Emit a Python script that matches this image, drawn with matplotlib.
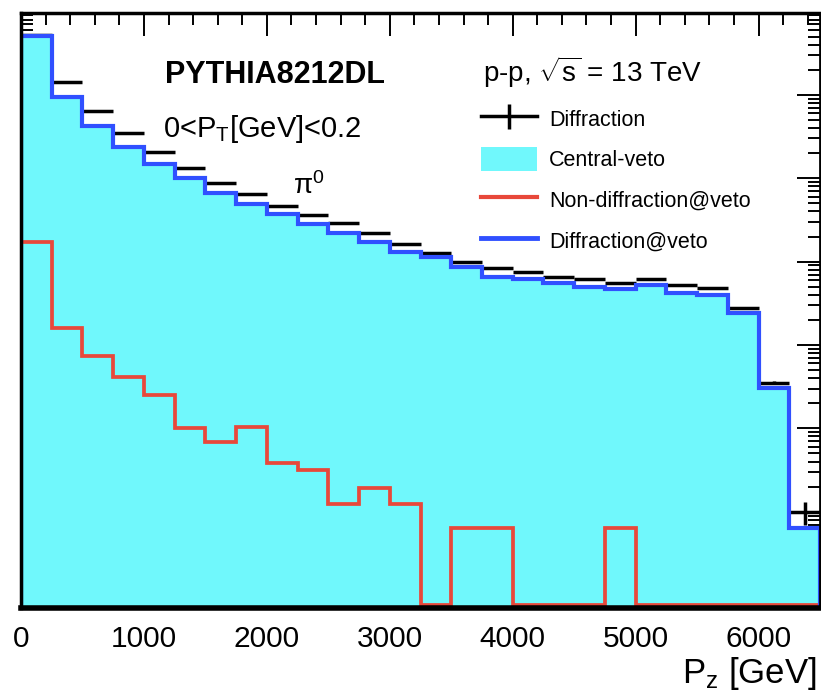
import numpy as np
import matplotlib
matplotlib.use("Agg")
import matplotlib.pyplot as plt
from matplotlib.lines import Line2D
from matplotlib.patches import Patch
from matplotlib.ticker import MultipleLocator, LogLocator, NullFormatter

plt.rcParams['font.family'] = ['Liberation Sans', 'DejaVu Sans']
plt.rcParams['mathtext.fontset'] = 'custom'
plt.rcParams['mathtext.rm'] = 'Liberation Sans'
plt.rcParams['mathtext.it'] = 'Liberation Sans:italic'
plt.rcParams['mathtext.bf'] = 'Liberation Sans:bold'

# P_z binning: 26 bins of 250 GeV
bin_edges = np.arange(0, 6501, 250)

# Diffraction (black points, arbitrary units)
diffraction = [5.3e6, 1.445e6, 6.49e5, 3.50e5, 2.09e5, 1.343e5, 8.71e4, 6.43e4,
               4.66e4, 3.63e4, 2.88e4, 2.19e4, 1.61e4, 1.28e4, 1.0e4, 8320,
               7590, 6610, 6140, 5600, 6140, 5250, 4790, 2810, 353, 10]
diffraction_err = [0, 0, 0, 0, 0, 0, 0, 0, 0, 0, 0, 0, 0, 0, 0, 0,
                   0, 0, 0, 0, 0, 0, 0, 40, 15, 3]

# Diffraction@veto (blue line) == Central-veto (cyan fill)
diffraction_veto = [5.15e6, 9.40e5, 4.29e5, 2.40e5, 1.476e5, 1.0e5, 6.73e4, 4.88e4,
                    3.73e4, 2.83e4, 2.23e4, 1.74e4, 1.32e4, 1.13e4, 8710, 6610,
                    6140, 5500, 5010, 4700, 5250, 4250, 3980, 2400, 302, 6.43]
central_veto = diffraction_veto

# Non-diffraction@veto (red line)
nondiffraction_veto = [17400, 1585, 745, 417, 251, 100, 69, 103, 38, 31.6, 12.4, 19,
                       12.4, 0, 6.3, 6.3, 0, 0, 0, 6.3, 0, 0, 0, 0, 0, 0]

labels = ['Diffraction', 'Central-veto', 'Non-diffraction@veto', 'Diffraction@veto']

ymin, ymax = 0.70, 9.6e6
cyan = '#70f8fc'
blue = '#3050ff'
red = '#e8483a'

W, H = 821, 693
fig = plt.figure(figsize=(W / 100, H / 100), dpi=100)
ax = fig.add_axes([21 / W, 1 - 608 / H, 799 / W, 595 / H])
ax.set_yscale('log')

centers = 0.5 * (bin_edges[:-1] + bin_edges[1:])
# empty bins are drawn just above the frame bottom, as ROOT does
red_floor = ymin * 1.09
red_vals = np.where(np.array(nondiffraction_veto) > 0, nondiffraction_veto, red_floor)

ax.stairs(central_veto, bin_edges, baseline=ymin, fill=True, color=cyan, zorder=3)
ax.errorbar(centers, diffraction, xerr=125, yerr=diffraction_err, fmt='none',
            ecolor='black', elinewidth=2.5, capsize=0, zorder=3.5)
ax.stairs(red_vals, bin_edges, baseline=ymin, color=red, lw=2.7, zorder=4)
ax.stairs(diffraction_veto, bin_edges, baseline=ymin, color=blue, lw=3, zorder=4.5)

ax.set_xlim(0, 6500)
ax.set_ylim(ymin, ymax)

ax.xaxis.set_major_locator(MultipleLocator(1000))
ax.xaxis.set_minor_locator(MultipleLocator(200))
ax.yaxis.set_major_locator(LogLocator(base=10, numticks=20))
ax.yaxis.set_minor_locator(LogLocator(base=10, subs=np.arange(2, 10), numticks=20))
ax.yaxis.set_minor_formatter(NullFormatter())

ax.tick_params(which='both', direction='in', top=True, right=True,
               labelleft=False, labelsize=21.5, width=1.4, pad=12, colors='black')
ax.tick_params(which='major', length=16.5)
ax.tick_params(which='minor', length=8.5)

for side, lw in [('bottom', 4), ('left', 2.5), ('top', 2.5), ('right', 2)]:
    ax.spines[side].set_linewidth(lw)
    ax.spines[side].set_zorder(6)

# texts
fig.text(165 / W, 1 - 83 / H, 'PYTHIA8212DL', fontsize=22, fontweight='bold',
         va='baseline', ha='left')
fig.text(163 / W, 1 - 137 / H, r'0<P$_{\mathrm{T}}$[GeV]<0.2', fontsize=21,
         va='baseline', ha='left')
fig.text(293 / W, 1 - 194 / H, r'π$^{0}$', fontsize=20, va='baseline', ha='left')
fig.text(483 / W, 1 - 82 / H, r'p-p, $\sqrt{\mathrm{s}}$ = 13 TeV', fontsize=20,
         va='baseline', ha='left')
fig.text(817 / W, 1 - 683 / H, r'P$_{\mathrm{z}}$ [GeV]', fontsize=25,
         va='baseline', ha='right')

handles = [
    Line2D([], [], color='black', lw=2.5, marker='|', ms=18, mew=2.5),
    Patch(facecolor=cyan, edgecolor='none'),
    Line2D([], [], color=red, lw=3),
    Line2D([], [], color=blue, lw=3.5),
]
ax.legend(handles, labels, loc='upper left', bbox_to_anchor=(481 / W, 1 - 106 / H),
          bbox_transform=fig.transFigure, frameon=False, fontsize=15.5,
          handlelength=2.6, handleheight=1.4, handletextpad=0.55,
          labelspacing=0.73, borderpad=0, borderaxespad=0)

fig.savefig('out.png', dpi=100)
